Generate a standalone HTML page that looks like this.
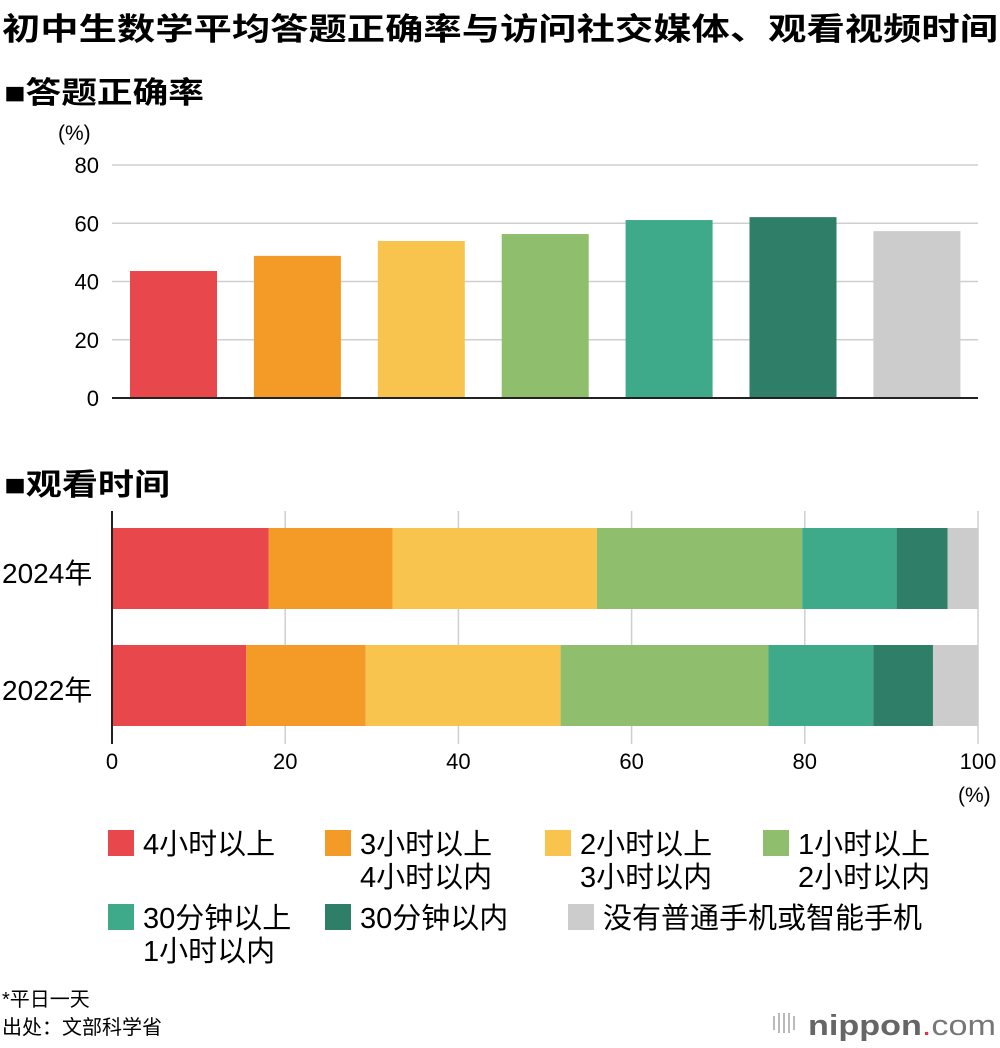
<!DOCTYPE html>
<html><head><meta charset="utf-8"><style>
body{margin:0;background:#fff;}
svg{display:block;font-family:"Liberation Sans","Noto Sans CJK SC",sans-serif;}
</style></head><body>
<svg id="c" width="1000" height="1048">
<text x="2" y="40" font-size="31" font-weight="bold" textLength="996" lengthAdjust="spacingAndGlyphs">初中生数学平均答题正确率与访问社交媒体、观看视频时间</text>
<text x="4" y="103" font-size="30" font-weight="bold" textLength="200" lengthAdjust="spacingAndGlyphs">■答题正确率</text>
<text x="58" y="140" font-size="21">(%)</text>
<text x="4" y="495" font-size="30" font-weight="bold" textLength="166" lengthAdjust="spacingAndGlyphs">■观看时间</text>
<text x="958" y="802" font-size="21">(%)</text>
<g id="bars"></g><g id="stack"></g><g id="legend"></g>
<text x="2" y="1006" font-size="20">*平日一天</text>
<text x="2" y="1034" font-size="20">出处：文部科学省</text>
<g>
<g stroke="#bbb" stroke-width="2"><line x1="774" y1="1016" x2="774" y2="1030"/><line x1="779" y1="1013" x2="779" y2="1033"/><line x1="784" y1="1013" x2="784" y2="1033"/><line x1="789" y1="1013" x2="789" y2="1033"/><line x1="794" y1="1016" x2="794" y2="1030"/></g>
<text x="808" y="1035" font-size="29" fill="#666" textLength="188" lengthAdjust="spacingAndGlyphs"><tspan font-weight="bold">nippon</tspan><tspan fill="#e8303a">.</tspan><tspan fill="#777">com</tspan></text>
</g>
</svg>
<script>
const colors=["#e8474b","#f39a27","#f8c44e","#8fbf6c","#3eaa8a","#2e7e68","#cccccc"];
const names=["4小时以上","3小时以上\n4小时以内","2小时以上\n3小时以内","1小时以上\n2小时以内","30分钟以上\n1小时以内","30分钟以内","没有普通手机或智能手机"];
const accuracy=[43.6,48.8,53.9,56.3,61.1,62.1,57.3];
const yTicks=[0,20,40,60,80];
const years=["2024年","2022年"];
const share2024=[18.1,14.3,23.6,23.7,10.9,5.9,3.5];
const share2022=[15.5,13.8,22.5,24.0,12.1,6.9,5.2];
const xTicks=[0,20,40,60,80,100];
const NS="http://www.w3.org/2000/svg";
function mk(p,t,a){const e=document.createElementNS(NS,t);for(const k in a)e.setAttribute(k,a[k]);p.appendChild(e);return e;}
const y=v=>398-v*233/80;
const bx=i=>130+i*123.9;
const B=document.getElementById('bars');
yTicks.forEach(t=>{
 const l=mk(B,'line',{x1:112,x2:978,y1:y(t),y2:y(t),stroke:t?'#cfcfcf':'#222','stroke-width':t?1.5:2});
 
 
 const tx=mk(B,'text',{x:99,y:y(t)+8,'font-size':22,'text-anchor':'end'});tx.textContent=t;
 
 
});
accuracy.forEach((v,i)=>{
 const r=mk(B,'rect',{x:bx(i),y:y(v),width:87,height:y(0)-y(v)-1,fill:colors[i]});
 
 
});
const x=v=>112+v*8.66;
const S=document.getElementById('stack');
xTicks.forEach(t=>{
 if(t){const l=mk(S,'line',{x1:x(t),x2:x(t),y1:511,y2:744,stroke:'#cfcfcf','stroke-width':1.5});
 
 }
 const tx=mk(S,'text',{x:x(t),y:769,'font-size':22,'text-anchor':'middle'});tx.textContent=t;
 
 
});
[share2024,share2022].forEach((arr,r)=>{
 const top=528+r*117;let acc=0;
 arr.forEach((v,i)=>{
  const rc=mk(S,'rect',{x:x(acc),y:top,width:x(acc+v)-x(acc),height:81,fill:colors[i]});
  
  
  acc+=v;
 });
 const tx=mk(S,'text',{x:2,y:top+55,'font-size':28});tx.textContent=years[r];
 
 
});
const ax=mk(S,'line',{x1:112,x2:112,y1:511,y2:744,stroke:'#222','stroke-width':2});


const L=document.getElementById('legend');
const lp=[[108,830],[325,830],[545,830],[763,830],[108,904],[325,904],[568,904]];
names.forEach((n,i)=>{
 const g=mk(L,'g',{});
 
 
 mk(g,'rect',{x:lp[i][0],y:lp[i][1],width:26,height:26,fill:colors[i]});
 n.split('\n').forEach((s,j)=>{const t=mk(g,'text',{x:lp[i][0]+35,y:lp[i][1]+24+j*33,'font-size':29});t.textContent=s;});
});
</script>
</body></html>
